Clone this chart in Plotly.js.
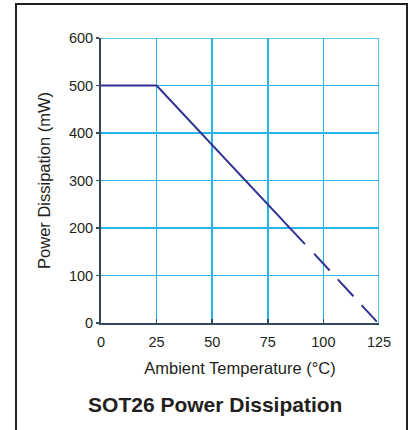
<!DOCTYPE html>
<html>
<head>
<meta charset="utf-8">
<script src="https://cdn.plot.ly/plotly-3.0.1.min.js"></script>
<style>
  html, body { margin: 0; padding: 0; background: #fff; }
  #wrap { position: relative; width: 410px; height: 430px; overflow: hidden; }
  #chart { position: absolute; left: 0; top: 0; width: 410px; height: 430px; }
  #frame { position: absolute; left: 15px; top: 3px; width: 389px; height: 440px;
           border: 2px solid #231f20; pointer-events: none; }
</style>
</head>
<body>
<div id="wrap">
  <div id="chart"></div>
  <div id="frame"></div>
</div>
<script>
// Solid portion of the derating curve
var solidTemp = [0, 25, 91.7];
var solidPower = [500, 500, 166];
// Dashed portion (extrapolated)
var dashTemp = [95.8, 124];
var dashPower = [146, 3];

var xTicks = [0, 25, 50, 75, 100, 125];
var yTicks = [0, 100, 200, 300, 400, 500, 600];

var FONT = '"Liberation Sans", Arial, Helvetica, sans-serif';
var LINE = '#2e3192';

var traces = [
  { x: solidTemp, y: solidPower, mode: 'lines', line: { color: LINE, width: 2 }, hoverinfo: 'skip' },
  { x: dashTemp, y: dashPower, mode: 'lines', line: { color: LINE, width: 2, dash: '23px,12px' }, hoverinfo: 'skip' }
];

var layout = {
  width: 410, height: 430,
  margin: { l: 101, r: 31, t: 38, b: 107 },
  paper_bgcolor: '#ffffff', plot_bgcolor: '#ffffff',
  showlegend: false,
  font: { family: FONT, color: '#231f20' },
  title: { text: '<b>SOT26 Power Dissipation</b>', font: { family: FONT, size: 21, color: '#231f20' },
           x: 0.525, xref: 'container', xanchor: 'center', y: 0.058, yref: 'container', yanchor: 'middle' },
  xaxis: {
    range: [0, 125], tickvals: xTicks, ticktext: xTicks.map(String),
    showgrid: true, gridcolor: '#27b4e8', gridwidth: 1.5,
    showline: true, linecolor: '#34495e', linewidth: 2,
    ticks: 'inside', ticklen: 4, tickcolor: '#34495e', tickwidth: 1.5,
    ticklabelstandoff: 5,
    tickfont: { family: FONT, size: 14.5, color: '#231f20' },
    zeroline: false, fixedrange: true,
    title: { text: 'Ambient Temperature (°C)', font: { family: FONT, size: 16.5, color: '#231f20' }, standoff: 13 }
  },
  yaxis: {
    range: [0, 600], tickvals: yTicks, ticktext: yTicks.map(String),
    showgrid: true, gridcolor: '#27b4e8', gridwidth: 1.5,
    showline: true, linecolor: '#34495e', linewidth: 2,
    ticks: 'outside', ticklen: 3, tickcolor: '#34495e', tickwidth: 1.5,
    tickfont: { family: FONT, size: 14.5, color: '#231f20' },
    zeroline: false, fixedrange: true,
    title: { text: 'Power Dissipation (mW)', font: { family: FONT, size: 16.5, color: '#231f20' }, standoff: 14 }
  },
  shapes: [
    { type: 'line', xref: 'x', yref: 'paper', x0: 125, x1: 125, y0: 0, y1: 1, line: { color: '#27b4e8', width: 1.5 } },
    { type: 'line', xref: 'paper', yref: 'y', x0: 0, x1: 1, y0: 600, y1: 600, line: { color: '#27b4e8', width: 1.5 } }
  ]
};

Plotly.newPlot('chart', traces, layout, { displayModeBar: false, staticPlot: true });
</script>
</body>
</html>
